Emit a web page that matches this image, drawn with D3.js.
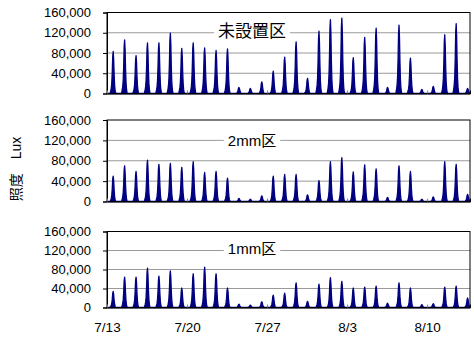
<!DOCTYPE html>
<html>
<head>
<meta charset="utf-8">
<script src="https://cdn.jsdelivr.net/npm/d3@7"></script>
<style>
  body { margin: 0; background: #fff; }
  svg { display: block; font-family: "Liberation Sans", Arial, "Noto Sans CJK JP", sans-serif; }
</style>
</head>
<body>
<svg id="chart" width="474" height="341"></svg>
<script>
// daily peak illuminance (thousand lux), 7/13 .. 8/13
const peakNone = [83, 106, 75, 100, 100, 119, 89, 100, 90, 85, 88, 12, 10, 23, 44, 72,
                  102, 30, 123, 146, 149, 71, 111, 129, 12, 135, 70, 8, 14, 116, 138, 10];
const peak2mm  = [50, 70, 59, 81, 73, 75, 67, 78, 57, 59, 46, 6, 4.5, 11, 50, 53,
                  53, 13, 41, 78, 86, 58, 72, 64, 8, 70, 59, 4.5, 9, 78, 73, 14];
const peak1mm  = [34, 64, 64, 83, 66, 77, 41, 71, 85, 71, 41, 7, 5, 12, 26, 30,
                  52, 13, 49, 63, 55, 41, 43, 45, 9, 52, 41, 6, 8, 43, 45, 20];

// shape of one day (hour of day, share of the daily peak)
const dayHours = [6, 7, 8, 9, 10, 11, 12, 13, 14, 15, 16, 17, 18, 19];
const dayShape = [0, 0.03, 0.07, 0.13, 0.25, 0.5, 0.88, 1, 0.82, 0.45, 0.2, 0.08, 0.02, 0];

const panelNames = ["未設置区", "2mm区", "1mm区"];
const yTicks = [0, 40000, 80000, 120000, 160000];
const xTickDates = ["2010-07-13", "2010-07-20", "2010-07-27", "2010-08-03", "2010-08-10"];
const xTickLabels = ["7/13", "7/20", "7/27", "8/3", "8/10"];

const startDate = new Date(2010, 6, 13, 0);
const endDate = new Date(2010, 7, 13, 18);

const svg = d3.select("#chart");
const left = 107, right = 470;

const x = d3.scaleTime().domain([startDate, endDate]).range([left, right]);

const panels = [
  { name: panelNames[0], peaks: peakNone, top: 12.5, bottom: 93.5, labelY: 31, labelSize: 17 },
  { name: panelNames[1], peaks: peak2mm, top: 120, bottom: 201.5, labelY: 140, labelSize: 15 },
  { name: panelNames[2], peaks: peak1mm, top: 231.5, bottom: 307.5, labelY: 248, labelSize: 15 }
];

function series(peaks) {
  const pts = [{ t: startDate, v: 0 }];
  peaks.forEach((p, i) => {
    dayHours.forEach((h, j) => {
      pts.push({ t: new Date(2010, 6, 13 + i, h), v: p * 1000 * dayShape[j] });
    });
  });
  pts.push({ t: endDate, v: 0 });
  return pts.filter(d => d.t <= endDate);
}

panels.forEach((p, pi) => {
  const y = d3.scaleLinear().domain([0, 160000]).range([p.bottom, p.top]);
  const g = svg.append("g");

  // gridlines
  g.selectAll(".grid")
    .data(yTicks.slice(1, -1))
    .enter().append("line")
    .attr("x1", left).attr("x2", right)
    .attr("y1", d => y(d)).attr("y2", d => y(d))
    .attr("stroke", "#9a9a9a").attr("stroke-width", 1);

  // area
  const data = series(p.peaks);
  const area = d3.area()
    .x(d => x(d.t))
    .y0(y(0))
    .y1(d => y(d.v));
  g.append("path")
    .datum(data)
    .attr("fill", "#000080")
    .attr("stroke", "#000080")
    .attr("stroke-width", 1.3)
    .attr("stroke-linejoin", "round")
    .attr("d", area);

  // plot border
  g.append("rect")
    .attr("x", left).attr("y", p.top)
    .attr("width", right - left).attr("height", p.bottom - p.top)
    .attr("fill", "none").attr("stroke", "#000").attr("stroke-width", 1);

  // y axis
  const ya = g.append("g")
    .attr("transform", `translate(${left},0)`)
    .call(d3.axisLeft(y).tickValues(yTicks).tickFormat(d3.format(",")).tickSize(4).tickPadding(12));
  ya.select(".domain").attr("stroke", "#000");
  ya.selectAll(".tick line").attr("stroke", "#000");
  ya.selectAll("text").attr("font-size", 13).attr("fill", "#000");

  // x axis
  const xa = g.append("g")
    .attr("transform", `translate(0,${p.bottom})`)
    .call(d3.axisBottom(x)
      .tickValues(xTickDates.map(s => d3.timeParse("%Y-%m-%d")(s)))
      .tickFormat((d, i) => xTickLabels[i])
      .tickSize(-3).tickPadding(15));
  xa.select(".domain").attr("stroke", "#000");
  xa.selectAll(".tick line").attr("stroke", "#808080");
  xa.selectAll("text").attr("font-size", 13.5).attr("fill", "#000");
  if (pi < 2) xa.selectAll("text").remove();

  // panel label with white box
  const lg = g.append("g");
  const txt = lg.append("text")
    .attr("x", 252).attr("y", p.labelY)
    .attr("text-anchor", "middle")
    .attr("dominant-baseline", "central")
    .attr("font-size", p.labelSize)
    .attr("fill", "#000")
    .text(p.name);
  const bb = txt.node().getBBox();
  lg.insert("rect", "text")
    .attr("x", bb.x - 4).attr("y", bb.y)
    .attr("width", bb.width + 8).attr("height", bb.height)
    .attr("fill", "#fff");
});

// y axis title
svg.append("text")
  .attr("transform", "translate(16,169) rotate(-90)")
  .attr("text-anchor", "middle")
  .attr("dominant-baseline", "central")
  .attr("font-size", 14)
  .attr("fill", "#000")
  .text("照度　Lux");
</script>
</body>
</html>
